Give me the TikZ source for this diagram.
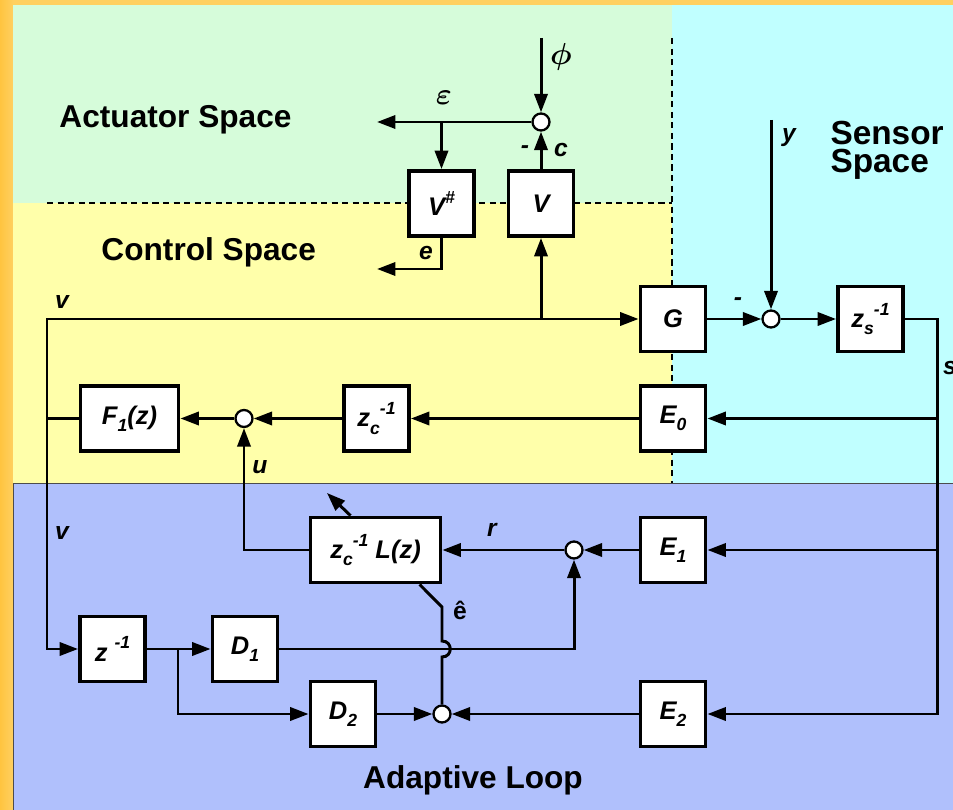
\documentclass[tikz,border=0pt]{standalone}
\usepackage{fontspec}
\setmainfont{Liberation Sans}
\usepackage{amsmath}
\usepackage{tikz}
\usetikzlibrary{arrows.meta,calc}

\definecolor{frameorange}{RGB}{255,208,96}
\definecolor{frameedge}{RGB}{255,196,64}
\definecolor{actgreen}{RGB}{214,252,218}
\definecolor{ctrlyellow}{RGB}{255,255,170}
\definecolor{senscyan}{RGB}{192,255,255}
\definecolor{adaptblue}{RGB}{176,192,252}

\newcommand{\subtxt}[1]{\raisebox{-0.55ex}{\fontsize{10}{10}\selectfont #1}}
\newcommand{\suptxt}[1]{\raisebox{0.9ex}{\fontsize{10}{10}\selectfont #1}}

\begin{document}
\begin{tikzpicture}[x=0.02cm, y=-0.02cm, line width=1.7pt, >={Triangle[length=10.5pt,width=7.5pt]},
        block/.style={draw, line width=2.2pt, fill=white, minimum width=1.3cm, minimum height=1.3cm,
            inner sep=0pt, font=\fontsize{14.5}{16}\selectfont\bfseries\itshape},
        sumpt/.style={circle, draw, line width=1.3pt, fill=white, minimum size=0.34cm, inner sep=0pt},
        lbl/.style={font=\fontsize{14}{16}\selectfont\bfseries\itshape, inner sep=0pt},
        spacelbl/.style={font=\fontsize{18}{15}\selectfont\bfseries, align=left, inner sep=0pt},
        divider/.style={line width=0.6pt, dash pattern=on 3.5pt off 2.5pt}]
        \useasboundingbox (0,0) rectangle (953,810);

        % Regions
        \fill[frameorange] (0,0) rectangle (953,810);
        \shade[left color=frameedge, right color=frameorange] (0,0) rectangle (13,810);
        \fill[actgreen] (13,5) rectangle (672,203);
        \fill[ctrlyellow] (13,203) rectangle (672,483);
        \fill[senscyan] (672,5) rectangle (953,483);
        \fill[adaptblue] (13,483) rectangle (953,810);
        \draw[line width=0.5pt, black!70] (13,810) -- (13,483) -- (953,483);
        \draw[divider] (47,203) -- (672,203);
        \draw[divider] (672,38) -- (672,483);

        \node[spacelbl, anchor=west] (actspace) at (58,120) {Actuator Space};
        \node[spacelbl, anchor=west] (ctrlspace) at (100,252) {Control Space};
        \node[spacelbl, anchor=west, font=\fontsize{19}{16}\selectfont\bfseries] (sensspace) at (829,150) {Sensor\\Space};
        \node[spacelbl] (adaptloop) at (473,780) {Adaptive Loop};

        % Nodes
        \node[block] (Vinv) at (441.5,203.5) {V\suptxt{\#}};
        \node[block] (V) at (541,203.5) {V};
        \node[sumpt] (sumA) at (541,122) {};
        \node[block] (G) at (673,319) {G};
        \node[sumpt] (sumS) at (771,319) {};
        \node[block] (zs) at (870.5,319) {z\subtxt{s}\suptxt{-1}};
        \node[block] (E0) at (673,418.5) {E\subtxt{0}};
        \node[block] (zc) at (376.5,418.5) {z\subtxt{c}\suptxt{-1}};
        \node[sumpt] (sumC) at (244,418.5) {};
        \node[block, minimum width=1.96cm] (F1) at (129.5,418.5) {F\subtxt{1}(z)};
        \node[block, minimum width=2.6cm] (Lz) at (375.5,550) {z\subtxt{c}\suptxt{-1} L(z)};
        \node[sumpt] (sumR) at (574,550) {};
        \node[block] (E1) at (673,550) {E\subtxt{1}};
        \node[block] (zinv) at (112.5,649) {z \suptxt{-1}};
        \node[block] (D1) at (245,649) {D\subtxt{1}};
        \node[block] (D2) at (343,714) {D\subtxt{2}};
        \node[sumpt] (sumE) at (442,714) {};
        \node[block] (E2) at (673,714) {E\subtxt{2}};

        \coordinate (phiin) at (541,38);
        \coordinate (yin) at (771,120);
        \coordinate (epsout) at (377,122);
        \coordinate (eout) at (377,269);
        \coordinate (vtop) at (47,319);
        \coordinate (sbus) at (937,714);
        \coordinate (split) at (178,649);
        \coordinate (adapt) at (327,493);
        \coordinate (ehat) at (442,607);

        % Labels
        \node[lbl] (lblPhi) at (561,57) {\fontsize{17}{17}\selectfont$\boldsymbol{\phi}$};
        \node[lbl] (lblEps) at (444,98) {\fontsize{16}{16}\selectfont$\boldsymbol{\varepsilon}$};
        \node[lbl] (lblMinA) at (525,150) {-};
        \node[lbl] (lblC) at (561,150) {c};
        \node[lbl] (lblE) at (426,253) {e};
        \node[lbl] (lblVa) at (62,302) {v};
        \node[lbl] (lblVb) at (62,533) {v};
        \node[lbl] (lblMinS) at (738,302) {-};
        \node[lbl] (lblY) at (789,138) {y};
        \node[lbl] (lblS) at (950,368) {s};
        \node[lbl] (lblU) at (260,467) {u};
        \node[lbl] (lblR) at (492,530) {r};
        \node[lbl, font=\fontsize{14}{16}\selectfont\bfseries] (lblEhat) at (460,610) {ê};

        % Arrows
        \draw[->] (phiin) -- (sumA);
        \draw[->] (V) -- (sumA);
        \draw[->] (sumA) -- (epsout);
        \draw[->] (Vinv.north |- sumA) -- (Vinv.north);
        \draw[->] (Vinv.south) |- (eout);
        \draw[->] (F1.west) -| (vtop) -- (G.west);
        \draw[->] (vtop) |- (zinv.west);
        \draw[->] (V.south |- G) -- (V.south);
        \draw[->] (G) -- (sumS);
        \draw[->] (yin) -- (sumS);
        \draw[->] (sumS) -- (zs);
        \draw[->] (zs.east) -| (sbus) -- (E2.east);
        \draw[->] (sbus |- E0) -- (E0.east);
        \draw[->] (sbus |- E1) -- (E1.east);
        \draw[->] (E0) -- (zc);
        \draw[->] (zc) -- (sumC);
        \draw[->] (sumC) -- (F1);
        \draw[->] (Lz.west) -| (sumC.south);
        \draw[->] (E1) -- (sumR);
        \draw[->] (sumR) -- (Lz);
        \draw[->] (Lz.126) -- (adapt);
        \draw[->] (zinv) -- (D1);
        \draw[->] (split) |- (D2.west);
        \draw[->] (D1.east) -| (sumR.south);
        \draw[->] (D2) -- (sumE);
        \draw[->] (E2) -- (sumE);
        \draw (sumE.north) -- ($(sumE |- D1.east)+(0,8)$)
            .. controls +(11,0) and +(11,0) .. ($(sumE |- D1.east)+(0,-8)$) -- (ehat) -- (Lz.-38);
\end{tikzpicture}
\end{document}
